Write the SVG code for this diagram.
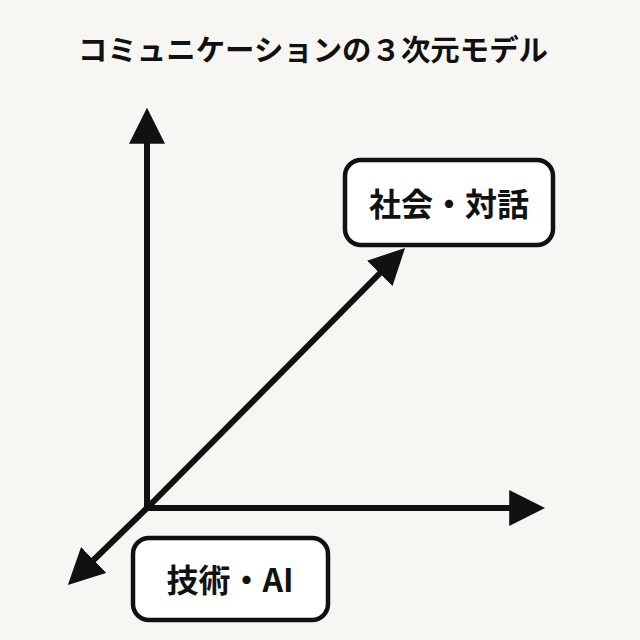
<svg xmlns="http://www.w3.org/2000/svg" width="640" height="640" viewBox="0 0 640 640">
<style>
.ax{stroke:#111;stroke-width:6;fill:none}
.box{fill:#fff;stroke:#111;stroke-width:4.5}
.t{font-family:"Noto Sans CJK JP","Noto Sans",sans-serif;font-weight:bold;fill:#111}
</style>
<defs><marker id="ah" viewBox="0 0 10 10" refX="8" refY="5" markerWidth="6" markerHeight="6" orient="auto" markerUnits="strokeWidth"><path d="M0,0 L10,5 L0,10 z" fill="#111"/></marker></defs>
<rect width="640" height="640" fill="#f8f6f2"/>
<text class="t" x="313" y="61" font-size="29" text-anchor="middle" textLength="470" lengthAdjust="spacingAndGlyphs">コミュニケーションの３次元モデル</text>
<g id="connectors">
<line class="ax" x1="147" y1="510" x2="147" y2="115" marker-end="url(#ah)"/>
<line class="ax" x1="145" y1="508" x2="538" y2="508" marker-end="url(#ah)"/>
<line class="ax" x1="147" y1="508" x2="400" y2="253" marker-end="url(#ah)"/>
<line class="ax" x1="147" y1="508" x2="73" y2="580" marker-end="url(#ah)"/>
</g>
<g id="social"><rect class="box" x="345" y="160" width="208" height="85" rx="16"/>
<text class="t" x="449" y="216" font-size="32" text-anchor="middle">社会・対話</text></g>
<g id="tech"><rect class="box" x="133" y="538" width="195" height="82" rx="16"/>
<text class="t" x="230" y="592" font-size="32" text-anchor="middle">技術・AI</text></g>
</svg>
